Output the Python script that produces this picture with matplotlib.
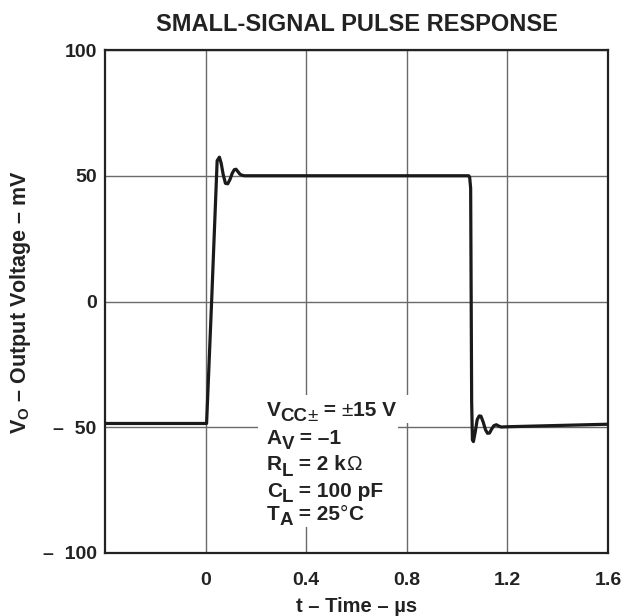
import numpy as np
import matplotlib
matplotlib.use('Agg')
import matplotlib.pyplot as plt
from matplotlib.patches import Rectangle
from matplotlib import transforms

plt.rcParams['font.family'] = ['Liberation Sans', 'DejaVu Sans']
plt.rcParams['font.weight'] = 'bold'
plt.rcParams['mathtext.fontset'] = 'custom'
plt.rcParams['mathtext.rm'] = 'Liberation Sans:bold'
plt.rcParams['mathtext.it'] = 'Liberation Sans:bold'
plt.rcParams['mathtext.bf'] = 'Liberation Sans:bold'

# pontos (tempo em µs, tensão em mV)
tempo = [-0.4, 0.004, 0.024, 0.046, 0.055, 0.062, 0.07, 0.079, 0.088, 0.097,
         0.106, 0.114, 0.121, 0.129, 0.137, 0.145, 0.155, 1.046, 1.05, 1.054,
         1.058, 1.061, 1.065, 1.072, 1.08, 1.088, 1.095, 1.104, 1.113, 1.121,
         1.129, 1.137, 1.146, 1.156, 1.165, 1.175, 1.2, 1.6]
tensao = [-48.5, -48.5, 0, 56, 57.4, 55, 50.5, 47, 46.8, 48.5,
          51, 52.4, 52.6, 51.6, 50.6, 50.2, 50, 50, 49.5, 45,
          -40, -55, -55.7, -52, -47, -45.5, -45.6, -48, -51, -52.4,
          -52.3, -50.8, -49.4, -49, -49.5, -49.9, -49.8, -48.8]

x_ticks = [0, 0.4, 0.8, 1.2, 1.6]
x_labels = ['0', '0.4', '0.8', '1.2', '1.6']
y_ticks = [-100, -50, 0, 50, 100]
y_labels = ['–  100', '–  50', '0', '50', '100']

# cada linha: (texto, é subscrito, negrito)
condicoes = [
    [('V', False, True), ('CC', True, True), ('±', True, False), (' = ', False, True),
     ('±', False, False), ('15 V', False, True)],
    [('A', False, True), ('V', True, True), (' = –1', False, True)],
    [('R', False, True), ('L', True, True), (' = 2 k', False, True), ('Ω', False, False)],
    [('C', False, True), ('L', True, True), (' = 100 pF', False, True)],
    [('T', False, True), ('A', True, True), (' = 25', False, True), ('°', False, False),
     ('C', False, True)],
]

fig = plt.figure(figsize=(6.26, 6.16), dpi=100)
ax = fig.add_axes([0.1677, 0.1023, 0.8035, 0.8165])

ax.plot(tempo, tensao, color='#1a1a1a', lw=2.3, zorder=3,
        solid_joinstyle='round', solid_capstyle='round')

ax.set_xlim(-0.4, 1.6)
ax.set_ylim(-100, 100)
ax.set_xticks(x_ticks)
ax.set_xticklabels(x_labels)
ax.set_yticks(y_ticks)
ax.set_yticklabels(y_labels)
ax.tick_params(length=0, labelsize=14, labelcolor='#222222')
ax.tick_params(axis='y', pad=6)
ax.tick_params(axis='x', pad=13.5)
ax.grid(True, color='#6a6a6a', lw=1.0)
ax.set_axisbelow(True)
for s in ax.spines.values():
    s.set_linewidth(1.6)
    s.set_color('#222222')

ax.set_title('SMALL-SIGNAL PULSE RESPONSE', fontsize=17, fontweight='bold',
             pad=14, color='#222222')
ax.set_xlabel('t – Time – µs', fontsize=14.5, fontweight='bold', labelpad=6,
              color='#222222')
ax.set_ylabel(r'V$_{\mathrm{O}}$ – Output Voltage – mV', fontsize=15.5,
              fontweight='bold', labelpad=7, color='#222222')

# caixa branca com as condições de teste
ax.add_patch(Rectangle((0.304, 0.0517), 0.2785, 0.2623, transform=ax.transAxes,
                       facecolor='white', edgecolor='none', zorder=2))
ax.add_patch(Rectangle((0.304, 0.2584), 0.306, 0.0556, transform=ax.transAxes,
                       facecolor='white', edgecolor='none', zorder=2))

renderer = fig.canvas.get_renderer()
base_y = [0.2724, 0.2167, 0.164, 0.1123, 0.0656]
x0 = 0.3215
for linha, y in zip(condicoes, base_y):
    desloc = 0.0
    for texto, sub, negrito in linha:
        tam = 13.5 if sub else 15
        dy = -5.5 if sub else 0
        tr = transforms.offset_copy(ax.transAxes, fig=fig, x=desloc, y=dy, units='dots')
        t = ax.text(x0, y, texto, transform=tr, fontsize=tam,
                    fontweight='bold' if negrito else 'normal',
                    va='baseline', ha='left', color='#222222', zorder=4)
        desloc += t.get_window_extent(renderer).width

fig.savefig('out.png', dpi=100)
